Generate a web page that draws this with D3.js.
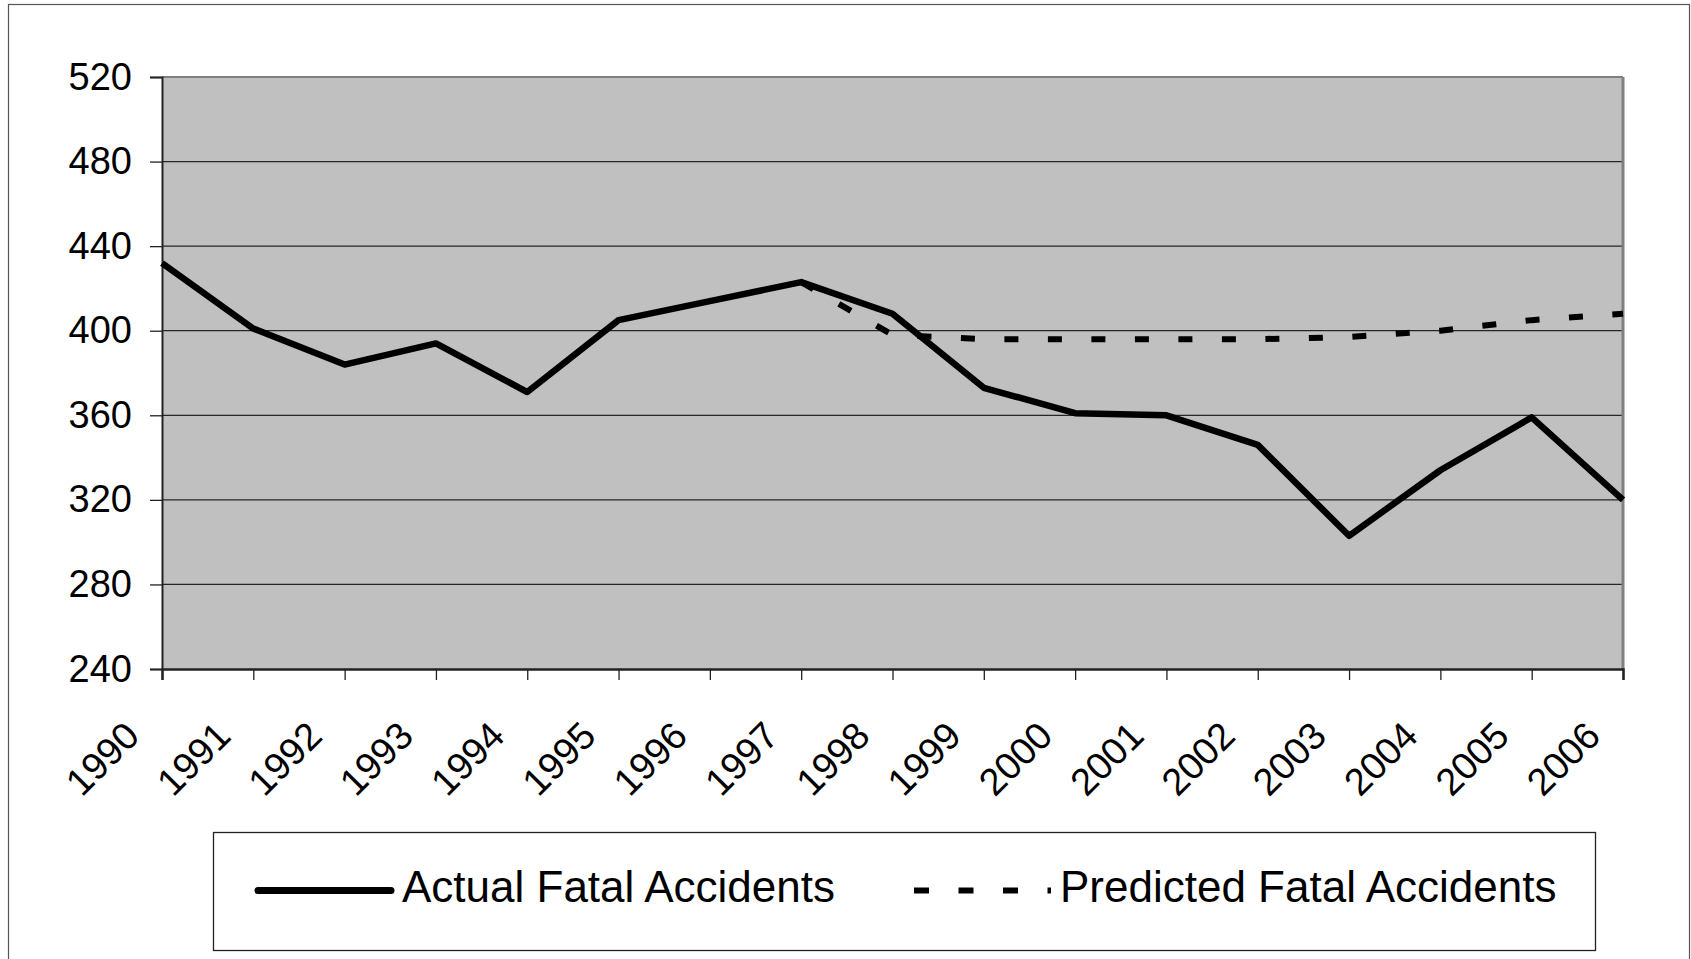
<!DOCTYPE html>
<html>
<head>
<meta charset="utf-8">
<script src="https://cdn.jsdelivr.net/npm/d3@7"></script>
<style>
  body { margin: 0; background: #fff; }
  svg text { font-family: "Liberation Sans", Arial, sans-serif; fill: #000; }
</style>
</head>
<body>
<script>
const years     = [1990, 1991, 1992, 1993, 1994, 1995, 1996, 1997, 1998, 1999, 2000, 2001, 2002, 2003, 2004, 2005, 2006]
const actual    = [432, 401, 384, 394, 371, 405, 414, 423, 408, 373, 361, 360, 346, 303, 334, 359, 320]
const predYears = [1997, 1998, 1999, 2000, 2001, 2002, 2003, 2004, 2005, 2006]
const predicted = [423, 398, 396, 396, 396, 396, 397, 400, 405, 408]
const yTicks    = [240, 280, 320, 360, 400, 440, 480, 520]
const seriesNames = ["Actual Fatal Accidents", "Predicted Fatal Accidents"]

const width = 1691, height = 959
const svg = d3.select("body").append("svg")
    .attr("width", width)
    .attr("height", height)

// outer chart frame
svg.append("rect")
    .attr("x", 8.5).attr("y", 4.5)
    .attr("width", 1681).attr("height", 980)
    .attr("fill", "none")
    .attr("stroke", "#555")
    .attr("stroke-width", 1.2)

const x = d3.scaleLinear().domain([1990, 2006]).range([162, 1623])
const y = d3.scaleLinear().domain([240, 520]).range([669, 77])

// plot area
svg.append("rect")
    .attr("x", x(1990)).attr("y", y(520))
    .attr("width", x(2006) - x(1990)).attr("height", y(240) - y(520))
    .attr("fill", "#c0c0c0")

// gridlines
svg.append("g")
    .selectAll("line")
    .data(yTicks.filter(d => d > 240 && d < 520))
    .enter()
    .append("line")
        .attr("x1", x(1990)).attr("x2", x(2006))
        .attr("y1", d => y(d)).attr("y2", d => y(d))
        .attr("stroke", "#262626")
        .attr("stroke-width", 1.3)

// plot border (top and right are grey)
svg.append("line")
    .attr("x1", x(1990)).attr("x2", x(2006))
    .attr("y1", y(520)).attr("y2", y(520))
    .attr("stroke", "#808080").attr("stroke-width", 2)
svg.append("line")
    .attr("x1", x(2006)).attr("x2", x(2006))
    .attr("y1", y(520)).attr("y2", y(240))
    .attr("stroke", "#808080").attr("stroke-width", 3)

// y axis
const yAxis = svg.append("g")
    .attr("transform", `translate(${x(1990)},0)`)
    .call(d3.axisLeft(y).tickValues(yTicks).tickSize(12).tickFormat(d3.format("d")))
yAxis.select(".domain").attr("stroke", "#222").attr("stroke-width", 2)
yAxis.selectAll(".tick line").attr("stroke", "#222").attr("stroke-width", 1.3)
yAxis.selectAll(".tick text")
    .attr("font-size", "38px")
    .attr("x", -30)
    .attr("dy", "12px")
    .attr("font-family", "Liberation Sans, Arial, sans-serif")
    .attr("fill", "#000")

// x axis
const xAxis = svg.append("g")
    .attr("transform", `translate(0,${y(240)})`)
    .call(d3.axisBottom(x).tickValues(years).tickSize(11).tickFormat(d3.format("d")))
xAxis.select(".domain").attr("stroke", "#222").attr("stroke-width", 2.5)
xAxis.selectAll(".tick text")
    .attr("font-size", "38px")
    .attr("font-family", "Liberation Sans, Arial, sans-serif")
    .attr("fill", "#000")
    .attr("text-anchor", "end")
    .attr("y", 0).attr("dy", 0)
    .attr("transform", "translate(-21,69) rotate(-45)")
xAxis.selectAll(".tick line").attr("stroke", "#222").attr("stroke-width", 1.3)

const line = d3.line().x(d => x(d[0])).y(d => y(d[1]))

// predicted (dotted)
svg.append("path")
    .datum(predYears.map((yr, i) => [yr, predicted[i]]))
    .attr("d", line)
    .attr("fill", "none")
    .attr("stroke", "#000")
    .attr("stroke-width", 6)
    .attr("stroke-dasharray", "14,29.5")

// actual (solid)
svg.append("path")
    .datum(years.map((yr, i) => [yr, actual[i]]))
    .attr("d", line)
    .attr("fill", "none")
    .attr("stroke", "#000")
    .attr("stroke-width", 6.5)
    .attr("stroke-linejoin", "round")

// legend
const legend = svg.append("g")
legend.append("rect")
    .attr("x", 213.5).attr("y", 832.5)
    .attr("width", 1382).attr("height", 118)
    .attr("fill", "#fff")
    .attr("stroke", "#222")
    .attr("stroke-width", 1.3)

legend.append("line")
    .attr("x1", 258).attr("x2", 391)
    .attr("y1", 890.5).attr("y2", 890.5)
    .attr("stroke", "#000").attr("stroke-width", 7)
    .attr("stroke-linecap", "round")
legend.append("text")
    .attr("x", 402).attr("y", 902)
    .attr("font-size", "44px")
    .text(seriesNames[0])

legend.append("line")
    .attr("x1", 914).attr("x2", 1051)
    .attr("y1", 890.5).attr("y2", 890.5)
    .attr("stroke", "#000").attr("stroke-width", 6)
    .attr("stroke-dasharray", "15,29.5")
legend.append("text")
    .attr("x", 1060).attr("y", 902)
    .attr("font-size", "44px")
    .text(seriesNames[1])
</script>
</body>
</html>
